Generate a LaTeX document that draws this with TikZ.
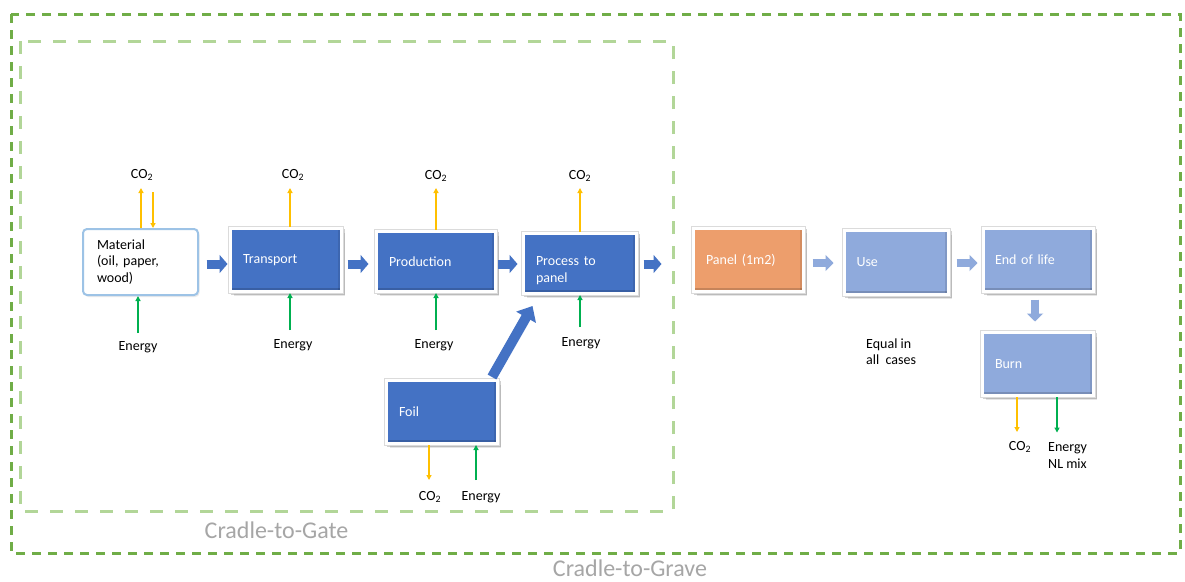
\documentclass[tikz,border=0pt]{standalone}
\usepackage{fontspec}
\setmainfont{Carlito}
\usetikzlibrary{arrows.meta,shadows,calc}

\definecolor{gravegreen}{RGB}{112,173,71}
\definecolor{gategreen}{RGB}{178,214,152}
\definecolor{procblue}{RGB}{68,114,196}
\definecolor{lightblue}{RGB}{143,170,220}
\definecolor{panelorange}{RGB}{237,158,108}
\definecolor{co2gold}{RGB}{255,192,0}
\definecolor{energygreen}{RGB}{0,176,80}
\definecolor{matborder}{RGB}{157,195,230}
\definecolor{labelgray}{RGB}{166,166,166}

\tikzset{
  every node/.style={font=\fontsize{14}{16.5}\selectfont, inner sep=1pt},
  stage/.style={
    general shadow={fill=black, opacity=0.10, shadow xshift=3pt, shadow yshift=-4pt},
    general shadow={fill=black, draw=black, line width=3pt, opacity=0.18, shadow xshift=1.5pt, shadow yshift=-2pt},
    preaction={draw=black!14, line width=5pt},
    draw=white, line width=3pt, text=white, align=left,
    inner xsep=12.5pt, inner ysep=0pt,
    path picture={
      \fill[black, opacity=0.16]
        ([yshift=1.5pt]path picture bounding box.south west) rectangle
        ([yshift=4pt]path picture bounding box.south east);
      \fill[black, opacity=0.10]
        ([xshift=-1.5pt]path picture bounding box.south east) rectangle
        ([xshift=-3.5pt]path picture bounding box.north east);
    }},
  darkstage/.style={stage, fill=procblue},
  lightstage/.style={stage, fill=lightblue},
  rawstage/.style={
    general shadow={fill=black, opacity=0.08, shadow xshift=1.5pt, shadow yshift=-2pt},
    draw=matborder, line width=2pt, fill=white, rounded corners=4pt,
    text=black, align=left, inner xsep=14pt, inner ysep=0pt},
  flowarrow/.style={draw=procblue, line width=9pt, -{Triangle[length=8pt,width=18pt]}},
  softarrow/.style={draw=lightblue, line width=8pt, -{Triangle[length=8pt,width=16pt]}},
  feedarrow/.style={draw=procblue, line width=10pt, -{Triangle[length=13pt,width=22pt]}},
  co2arrow/.style={draw=co2gold, line width=1.2pt, -{Triangle[length=5pt,width=5pt]}},
  energyarrow/.style={draw=energygreen, line width=1.2pt, -{Triangle[length=5pt,width=5pt]}},
  gravebox/.style={draw=gravegreen, line width=3pt, dash pattern=on 9pt off 7pt},
  gatebox/.style={draw=gategreen, line width=3pt, dash pattern=on 13pt off 12pt},
  scopelabel/.style={font=\fontsize{24}{28}\selectfont, text=labelgray},
  note/.style={align=left, anchor=west}
}

\begin{document}
\begin{tikzpicture}[x=1pt,y=-1pt]
\useasboundingbox (0,0) rectangle (1185,581);
\fill[white] (0,0) rectangle (1185,581);

% system boundaries
\draw[gravebox] (11,14) rectangle (1180,553);
\draw[gatebox] (20,41) rectangle (673,511);
\node[scopelabel] (gatelbl) at (276.5,530) {Cradle-to-Gate};
\node[scopelabel] (gravelbl) at (630,568) {Cradle-to-Grave};

% process chain
\node[rawstage, text width=87pt, minimum height=66pt] (mat) at (140.5,262)
  {Material\\(oil, paper,\\wood)};
\node[darkstage, text width=86pt, minimum height=63pt] (trans) at (286,260) {Transport};
\node[darkstage, text width=94pt, minimum height=60pt] (prod) at (436,261.5) {Production};
\node[darkstage, text width=88pt, minimum height=60pt] (proc) at (580,263.5)
  {\rule{0pt}{23pt}Process to\\panel};
\node[darkstage, text width=86pt, minimum height=63pt] (foil) at (442,412) {Foil};
\node[stage, fill=panelorange, text width=85pt, minimum height=63pt] (panel) at (748.5,260) {Panel (1m2)};
\node[lightstage, text width=80pt, minimum height=64pt, inner xsep=12pt] (use) at (896.5,262.5) {Use};
\node[lightstage, text width=87pt, minimum height=63pt, inner xsep=11.5pt] (eol) at (1038.5,260) {End of life};
\node[lightstage, text width=86pt, minimum height=63pt] (burn) at (1038,364) {Burn};

% main flow
\coordinate (flow) at (0,264);
\coordinate (softflow) at (0,263);
\coordinate (downflow) at (1035,0);
\draw[flowarrow, shorten <=7.5pt, shorten >=1.5pt] (mat.east |- flow) -- (trans.west |- flow);
\draw[flowarrow, shorten <=4.5pt, shorten >=6.5pt] (trans.east |- flow) -- (prod.west |- flow);
\draw[flowarrow, shorten <=1pt, shorten >=4.5pt] (prod.east |- flow) -- (proc.west |- flow);
\draw[flowarrow, shorten <=5.5pt, shorten >=30.5pt] (proc.east |- flow) -- (panel.west |- flow);
\draw[softarrow, shorten <=7.5pt, shorten >=9.5pt] (panel.east |- softflow) -- (use.west |- softflow);
\draw[softarrow, shorten <=6.5pt, shorten >=4.5pt] (use.east |- softflow) -- (eol.west |- softflow);
\draw[softarrow, shorten <=6.5pt, shorten >=9.5pt] (eol.south -| downflow) -- (burn.north -| downflow);
\draw[feedarrow] ([xshift=-7pt,yshift=2pt]foil.north east) -- ([xshift=10.5pt,yshift=-11pt]proc.south west);

% emissions and energy inputs
\node (co2mat) at (142,175) {CO\textsubscript{2}};
\node (co2trans) at (293,175) {CO\textsubscript{2}};
\node (co2prod) at (436,176) {CO\textsubscript{2}};
\node (co2proc) at (580,176) {CO\textsubscript{2}};
\node (co2foil) at (430,497) {CO\textsubscript{2}};
\node (co2burn) at (1020,447) {CO\textsubscript{2}};

\node (enmat) at (138,347) {Energy};
\node (entrans) at (293,345) {Energy};
\node (enprod) at (434,345) {Energy};
\node (enproc) at (581,343) {Energy};
\node (enfoil) at (481,497) {Energy};
\node[note] (enburn) at (1047,455.5) {Energy\\NL mix};
\node[note] (equal) at (865,351.5) {Equal in\\all\ \ cases};

\draw[co2arrow, shorten >=13pt] ([xshift=-1pt]co2mat |- mat.north) -- ([xshift=-1pt]co2mat.center);
\draw[co2arrow, shorten <=17pt] ([xshift=11pt]co2mat.center) -- ([xshift=11pt]co2mat |- mat.north);
\draw[co2arrow, shorten >=13pt] ([xshift=-3pt]co2trans |- trans.north) -- ([xshift=-3pt]co2trans.center);
\draw[co2arrow, shorten >=12pt] (co2prod |- prod.north) -- (co2prod.center);
\draw[co2arrow, shorten >=12pt] (co2proc |- proc.north) -- (co2proc.center);
\draw[co2arrow, shorten >=17pt] ([xshift=-1pt]co2foil |- foil.south) -- ([xshift=-1pt]co2foil.center);
\draw[co2arrow, shorten >=15pt] ([xshift=-3pt]co2burn |- burn.south) -- ([xshift=-3pt]co2burn.center);
\draw[energyarrow, shorten >=9pt] ([xshift=19pt]burn.south) -- ([xshift=19pt]burn.south |- enburn.north);

\draw[energyarrow, shorten <=14pt] (enmat.center) -- (enmat |- mat.south);
\draw[energyarrow, shorten <=15pt] ([xshift=-3pt]entrans.center) -- ([xshift=-3pt]entrans |- trans.south);
\draw[energyarrow, shorten <=15pt] ([xshift=2pt]enprod.center) -- ([xshift=2pt]enprod |- prod.south);
\draw[energyarrow, shorten <=16pt] ([xshift=-1pt]enproc.center) -- ([xshift=-1pt]enproc |- proc.south);
\draw[energyarrow, shorten <=17pt] ([xshift=-5pt]enfoil.center) -- ([xshift=-5pt]enfoil |- foil.south);
\end{tikzpicture}
\end{document}
